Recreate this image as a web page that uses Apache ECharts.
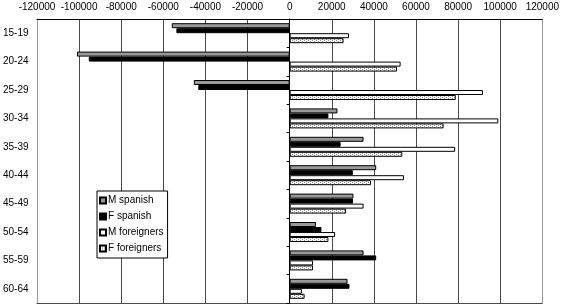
<!DOCTYPE html>
<html>
<head>
<meta charset="utf-8">
<script src="https://cdn.jsdelivr.net/npm/echarts@6/dist/echarts.min.js"></script>
<style>
html,body{margin:0;padding:0;background:#fff;}
#chart{width:562px;height:305px;}
</style>
</head>
<body>
<div id="chart"></div>
<script>
const categories = ['15-19','20-24','25-29','30-34','35-39','40-44','45-49','50-54','55-59','60-64'];
const mSpanish = [-56000,-101000,-45500,22700,35100,41100,30300,12500,35100,27500];
const fSpanish = [-53800,-95400,-43400,18400,24200,30000,30100,15100,41100,28400];
const mForeigners = [28200,52700,91800,99100,78600,54300,35100,21600,11100,5800];
const fForeigners = [25600,51000,78900,73100,53500,38600,26800,18400,11100,7100];
const seriesNames = ['M spanish','F spanish','M foreigners','F foreigners'];
const xTicks = {min:-120000, max:120000, interval:20000};

// dotted pattern for F foreigners
const pc = document.createElement('canvas');
pc.width = 4; pc.height = 2;
const ctx = pc.getContext('2d');
ctx.fillStyle = '#ffffff'; ctx.fillRect(0,0,4,2);
ctx.fillStyle = '#8a8a8a';
ctx.fillRect(0,0,1,1); ctx.fillRect(2,1,1,1);

const fills = ['#999999', '#000000', '#ffffff', {image: pc, repeat: 'repeat'}];
const datas = [mSpanish, fSpanish, mForeigners, fForeigners];

const nLines = (xTicks.max - xTicks.min) / xTicks.interval + 1;
const gridColors = [];
for (let i = 0; i < nLines; i++) gridColors.push(i === 0 || i === nLines - 1 ? '#9a9a9a' : '#4a4a4a');

const chart = echarts.init(document.getElementById('chart'), null, {renderer:'canvas'});
chart.setOption({
  animation: false,
  textStyle: {fontFamily: 'Liberation Sans, Arial, sans-serif'},
  grid: {left: 35, right: 17, top: 19, bottom: 2, containLabel: false},
  legend: {
    orient: 'vertical', left: 97, top: 191,
    icon: 'rect',
    itemWidth: 6, itemHeight: 6, itemGap: 3,
    padding: [3, 4, 3, 2],
    borderColor: '#000', borderWidth: 1, backgroundColor: '#fff',
    textStyle: {fontSize: 10, color: '#000', lineHeight: 13, padding: [0,0,0,-3]},
    data: seriesNames
  },
  xAxis: [{
    type: 'value', position: 'top',
    min: xTicks.min, max: xTicks.max, interval: xTicks.interval,
    axisLine: {show: true, onZero: false, lineStyle: {color: '#000'}},
    axisTick: {show: false},
    axisLabel: {fontSize: 10, color: '#000', margin: 7, formatter: v => String(v)},
    splitLine: {show: true, lineStyle: {color: gridColors, width: 1}}
  }, {
    type: 'value', position: 'bottom',
    min: xTicks.min, max: xTicks.max, interval: xTicks.interval,
    axisLine: {show: true, onZero: false, lineStyle: {color: '#4a4a4a'}},
    axisTick: {show: false}, axisLabel: {show: false},
    splitLine: {show: false}
  }],
  yAxis: [{
    type: 'category', inverse: true, data: categories,
    axisLine: {show: true, onZero: true, onZeroAxisIndex: 0, lineStyle: {color: '#000'}},
    axisTick: {show: true, length: 3, lineStyle: {color: '#000'}},
    axisLabel: {show: false}
  }, {
    type: 'category', inverse: true, data: categories, position: 'left',
    axisLine: {show: true, onZero: false, lineStyle: {color: '#9a9a9a'}},
    axisTick: {show: false},
    axisLabel: {show: true, fontSize: 10, color: '#000', align: 'left', margin: 34}
  }],
  series: seriesNames.map((n, i) => ({
    name: n, type: 'bar', data: datas[i],
    xAxisIndex: 0, yAxisIndex: 0,
    barWidth: 5, barGap: '0%',
    itemStyle: {color: fills[i], borderColor: '#000', borderWidth: 1}
  }))
});
</script>
</body>
</html>
